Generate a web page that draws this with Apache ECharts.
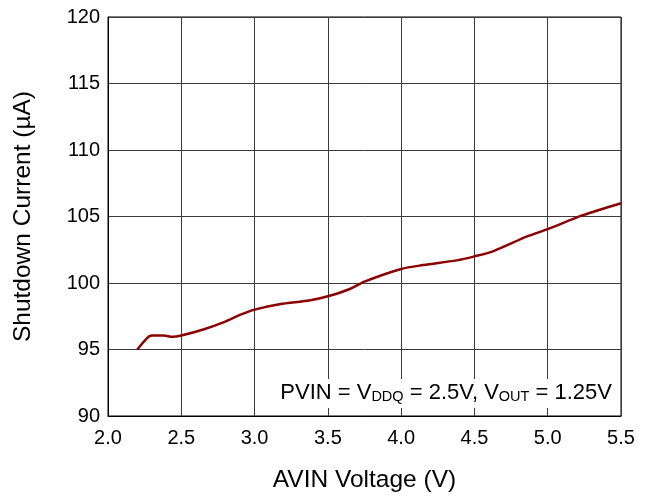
<!DOCTYPE html>
<html>
<head>
<meta charset="utf-8">
<script src="https://cdn.jsdelivr.net/npm/echarts@6/dist/echarts.min.js"></script>
<style>
  html, body { margin: 0; padding: 0; background: #fff; }
  #chart { width: 650px; height: 496px; }
</style>
</head>
<body>
<div id="chart"></div>
<script>
// AVIN voltage (V) and shutdown current (µA)
var avinVoltage = [2.2, 2.27, 2.3, 2.38, 2.44, 2.5, 2.65, 2.8, 2.9, 3.0, 3.17, 3.38, 3.5, 3.65, 3.75, 4.0, 4.15, 4.38, 4.5, 4.63, 4.86, 5.0, 5.24, 5.5]
var shutdownCurrent = [95.0, 95.9, 96.05, 96.05, 95.95, 96.05, 96.5, 97.1, 97.6, 98.0, 98.4, 98.7, 99.0, 99.55, 100.1, 101.05, 101.35, 101.7, 102.0, 102.4, 103.5, 104.05, 105.1, 106.0]

var xTicks = { min: 2.0, max: 5.5, interval: 0.5 }
var yTicks = { min: 90, max: 120, interval: 5 }

var points = avinVoltage.map(function (v, i) { return [v, shutdownCurrent[i]] })

var font = 'Liberation Sans, Arial, sans-serif'
var chart = echarts.init(document.getElementById('chart'))

var option = {
  animation: false,
  backgroundColor: '#fff',
  grid: {
    left: 108,
    right: 29,
    top: 17,
    bottom: 80,
    outerBoundsMode: 'none',
    show: true,
    borderColor: '#000',
    borderWidth: 1
  },
  xAxis: {
    type: 'value',
    min: xTicks.min,
    max: xTicks.max,
    interval: xTicks.interval,
    name: 'AVIN Voltage (V)',
    nameLocation: 'middle',
    nameGap: 52,
    nameTextStyle: { fontFamily: font, fontSize: 24.5, color: '#000' },
    axisLine: { show: true, lineStyle: { color: '#000', width: 1 } },
    axisTick: { show: false },
    axisLabel: {
      fontFamily: font,
      fontSize: 20,
      color: '#000',
      margin: 12,
      formatter: function (v) { return v.toFixed(1) }
    },
    splitLine: { show: true, lineStyle: { color: '#3a3a3a', width: 1 } }
  },
  yAxis: {
    type: 'value',
    min: yTicks.min,
    max: yTicks.max,
    interval: yTicks.interval,
    name: 'Shutdown Current (µA)',
    nameLocation: 'middle',
    nameGap: 72,
    nameTextStyle: { fontFamily: font, fontSize: 24.5, color: '#000' },
    axisLine: { show: true, lineStyle: { color: '#000', width: 1 } },
    axisTick: { show: false },
    axisLabel: { fontFamily: font, fontSize: 20, color: '#000', margin: 8 },
    splitLine: { show: true, lineStyle: { color: '#3a3a3a', width: 1 } }
  },
  series: [{
    type: 'line',
    data: points,
    smooth: 0.3,
    showSymbol: false,
    lineStyle: { color: '#8b0000', width: 2.5 }
  }],
  graphic: [{
    type: 'text',
    right: 34,
    top: 379,
    z: 100,
    style: {
      text: 'PVIN = V{s|DDQ} = 2.5V, V{s|OUT} = 1.25V',
      fontFamily: font,
      fontSize: 22,
      lineHeight: 23,
      fill: '#000',
      backgroundColor: '#fff',
      padding: [2, 4, 4, 4],
      rich: {
        s: { fontFamily: font, fontSize: 14.5, lineHeight: 14, verticalAlign: 'bottom', fill: '#000' }
      }
    }
  }]
}

chart.setOption(option)
</script>
</body>
</html>
